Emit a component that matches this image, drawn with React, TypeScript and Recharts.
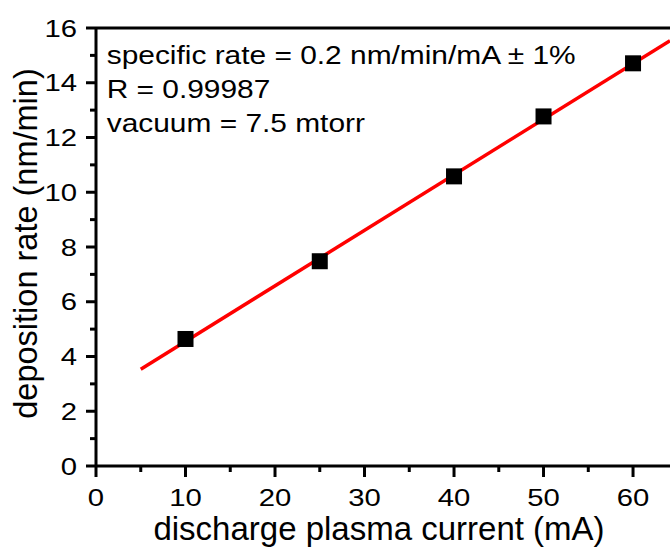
import React from 'react';
import { ComposedChart, Scatter, Line, XAxis, YAxis, ReferenceLine, Customized } from 'recharts';

const currents = [10, 25, 40, 50, 60];
const rates = [4.64, 7.48, 10.58, 12.77, 14.71];
const xTicks = [0, 5, 10, 15, 20, 25, 30, 35, 40, 45, 50, 55, 60];
const yTicks = [0, 1, 2, 3, 4, 5, 6, 7, 8, 9, 10, 11, 12, 13, 14, 15, 16];
const annotationLines = ['specific rate = 0.2 nm/min/mA \u00b1 1%', 'R = 0.99987', 'vacuum = 7.5 mtorr'];
const xTitle = 'discharge plasma current (mA)';
const yTitle = 'deposition rate (nm/min)';
const FIT_SLOPE = 0.203;
const FIT_INTERCEPT = 2.52;
const FIT_FROM = 5;
const X_MAX = 64.13;
const Y_MAX = 16;

const points = currents.map((x, i) => ({ x, rate: rates[i] }));
const fitData = [FIT_FROM, X_MAX].map((x) => ({ x, fit: FIT_INTERCEPT + FIT_SLOPE * x }));

const FONT = '"Liberation Sans", Arial, sans-serif';

const XTick = (props: any) => {
  const { x, y, payload } = props;
  const v = payload.value;
  const major = v % 10 === 0;
  return (
    <g>
      <line x1={x} x2={x} y1={y} y2={y + (major ? 11 : 6)} stroke="#000" strokeWidth={3} />
      {major && (
        <text transform={`translate(${x},${y + 40}) scale(1.22,1)`} textAnchor="middle" fontSize={24} fontFamily={FONT} fill="#000">
          {v}
        </text>
      )}
    </g>
  );
};

const YTick = (props: any) => {
  const { x, y, payload } = props;
  const v = payload.value;
  const major = v % 2 === 0;
  return (
    <g>
      <line x1={x} x2={x - (major ? 10 : 6)} y1={y} y2={y} stroke="#000" strokeWidth={3} />
      {major && (
        <text transform={`translate(${x - 19},${y + 8.5}) scale(1.22,1)`} textAnchor="end" fontSize={24} fontFamily={FONT} fill="#000">
          {v}
        </text>
      )}
    </g>
  );
};

const Square = (props: any) => {
  const { cx, cy } = props;
  return <rect x={cx - 8} y={cy - 8} width={16} height={16} fill="#000" />;
};

const Texts = () => (
  <g fontFamily={FONT} fill="#000">
    {annotationLines.map((t, i) => (
      <text key={i} transform={`translate(106.7,${64 + i * 34}) scale(1.15,1)`} fontSize={26} textAnchor="start">
        {t}
      </text>
    ))}
    <text x={379} y={540} fontSize={33} textAnchor="middle">{xTitle}</text>
    <text transform="translate(37,243.5) rotate(-90)" fontSize={32.5} textAnchor="middle">{yTitle}</text>
  </g>
);

export default function App() {
  return (
    <div style={{ width: 670, height: 547, overflow: 'hidden' }}>
      <style>{'body{margin:0;overflow:hidden}'}</style>
      <ComposedChart width={670} height={547} margin={{ top: 28, right: 0, bottom: 0, left: 0 }}>
        <XAxis
          dataKey="x"
          type="number"
          domain={[0, X_MAX]}
          ticks={xTicks}
          interval={0}
          height={81}
          tickSize={0}
          tickMargin={0}
          tickLine={false}
          tick={XTick}
          axisLine={{ stroke: '#000', strokeWidth: 3 }}
          allowDataOverflow
        />
        <YAxis
          type="number"
          domain={[0, Y_MAX]}
          ticks={yTicks}
          interval={0}
          width={96}
          tickSize={0}
          tickMargin={0}
          tickLine={false}
          tick={YTick}
          axisLine={{ stroke: '#000', strokeWidth: 3 }}
          allowDataOverflow
        />
        <ReferenceLine y={Y_MAX} stroke="#000" strokeWidth={3} />
        <Line data={fitData} dataKey="fit" stroke="#ff0000" strokeWidth={3.5} dot={false} isAnimationActive={false} />
        <Scatter data={points} dataKey="rate" fill="#000" shape={Square} isAnimationActive={false} />
        <Customized component={Texts} />
      </ComposedChart>
    </div>
  );
}
